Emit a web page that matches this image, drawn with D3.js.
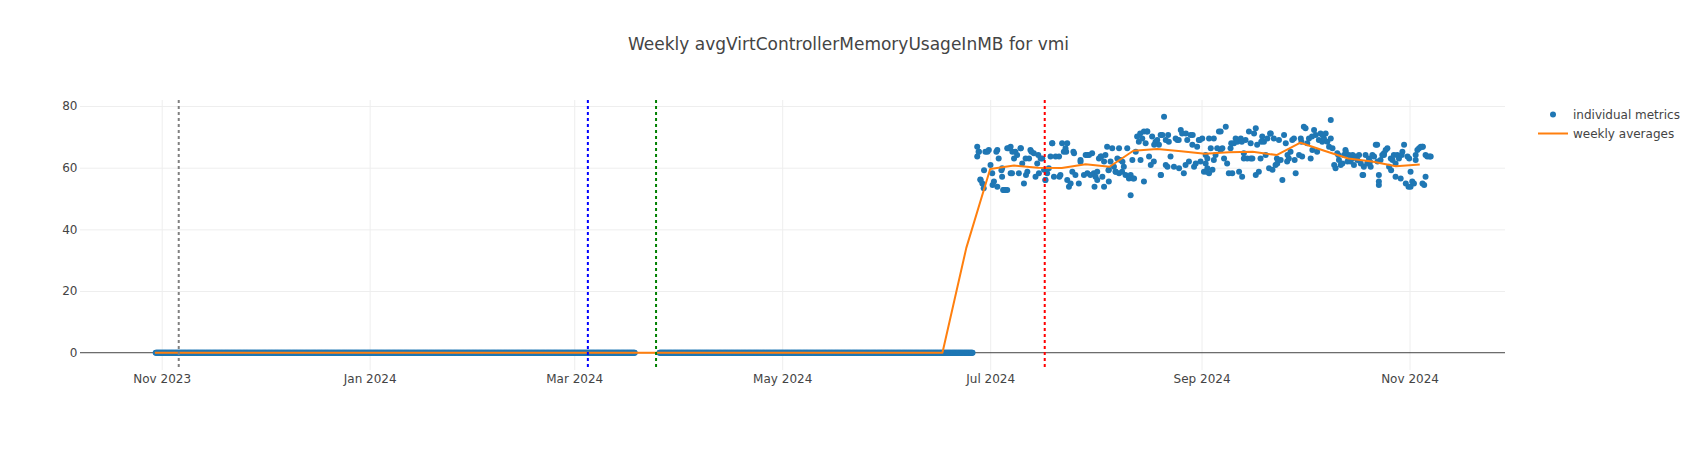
<!DOCTYPE html>
<html><head><meta charset="utf-8">
<script src="https://cdn.jsdelivr.net/npm/d3@7"></script>
<style>body{margin:0;background:#fff;} svg{display:block;font-family:"DejaVu Sans",verdana,arial,sans-serif;}</style>
</head><body><svg id="chart" width="1697" height="450"></svg>
<script>
const titleText = "Weekly avgVirtControllerMemoryUsageInMB for vmi";
const seriesNames = ["individual metrics", "weekly averages"];
const seriesColors = ["#1f77b4", "#ff7f0e"];
const yTicks = [0, 20, 40, 60, 80];
const xTickDates = ["2023-11-01", "2024-01-01", "2024-03-01", "2024-05-01", "2024-07-01", "2024-09-01", "2024-11-01"];
const xTickLabels = ["Nov 2023", "Jan 2024", "Mar 2024", "May 2024", "Jul 2024", "Sep 2024", "Nov 2024"];
const eventDates = ["2023-11-06", "2024-03-05", "2024-03-25", "2024-07-17"];
const eventColors = ["gray", "blue", "green", "red"];
// periods in which every individual metric reads 0
const zeroRanges = [["2023-10-30T06:00:00Z", "2024-03-18T18:00:00Z"], ["2024-03-26T00:00:00Z", "2024-06-25T22:00:00Z"]];
const zeroStepHours = 4;
// non-zero individual metrics: [days after metricBase, MB]
const metricBase = "2024-06-01T00:00:00Z";
const metricPoints = [
[26.2,66.8],[26.2,63.6],[26.7,65.2],[27.2,56.0],[27.7,54.9],[28.1,53.3],[28.6,65.2],[29.6,65.7],[30.1,60.9],[30.6,58.2],
[31.1,55.5],[32.1,65.7],[32.1,53.8],[32.5,63.0],[33.5,59.8],[33.5,57.1],[34.0,52.8],[34.5,52.8],[35.0,52.8],[35.0,66.3],
[36.0,66.8],[36.0,58.2],[36.5,65.2],[37.0,63.0],[37.9,64.1],[38.4,58.2],[38.9,66.3],[39.4,61.4],[39.9,54.9],[40.4,63.0],
[40.9,58.7],[41.4,63.0],[41.8,65.7],[42.8,64.7],[43.3,57.1],[43.8,61.4],[44.3,58.2],[44.8,63.0],[45.3,63.0],[45.8,59.3],
[46.2,56.0],[46.7,58.2],[47.2,59.8],[47.7,63.6],[48.2,67.9],[48.7,57.1],[49.2,63.6],[50.2,63.6],[50.6,57.6],[51.1,67.9],
[51.6,65.2],[52.1,66.3],[52.6,67.9],[52.6,56.0],[53.1,53.8],[53.6,54.9],[54.1,58.7],[54.6,64.7],[55.0,57.6],[56.0,54.9],
[56.5,62.5],[57.5,57.6],
[58.0,64.1],[58.5,58.2],[59.0,64.1],[59.4,57.6],[59.9,64.7],[60.4,58.2],[60.9,57.1],[61.4,58.7],[61.4,56.0],[61.9,63.0],
[62.4,63.6],[62.9,57.1],[63.4,62.0],[63.4,53.8],[63.8,64.1],[64.3,66.8],[64.8,59.3],[64.8,55.5],[65.3,62.0],[65.8,66.3],
[66.3,60.3],[66.8,58.7],[67.3,63.0],[67.8,66.3],[67.8,58.2],[68.2,62.5],[68.7,58.7],[69.2,60.3],[69.7,57.6],[70.2,66.3],
[70.7,56.5],[71.2,57.6],[71.2,51.1],[71.7,62.5],[72.2,56.5],[72.7,65.2],[73.1,70.1],[73.6,68.4],[74.1,62.5],[74.6,69.5],
[75.1,55.5],[75.1,71.7],[75.6,67.9],[76.1,71.7],[76.6,63.6],[77.1,60.9],[77.5,70.1],[78.0,62.0],[78.5,68.4],[79.0,69.0],
[79.5,67.4],[80.0,70.6],[80.0,57.6],[80.5,70.6],[81.0,76.5],[81.5,69.0],[81.5,60.9],[82.0,60.3],[82.4,68.4],[82.9,63.6],
[83.9,60.3],[84.4,69.5],[84.9,69.0],[85.4,59.8],[85.9,72.2],[86.3,71.1],[86.8,58.2],[87.3,60.9],[87.8,69.0],[88.3,62.0],
[88.8,70.6],[89.3,67.4],[89.8,60.3],[90.3,61.4],[90.7,66.8],[91.2,69.0],[91.7,62.0],[92.2,69.5],[92.7,58.7],[93.2,61.4],
[93.7,63.0],
[93.2,64.1],[93.7,59.8],[94.2,58.2],[94.2,69.5],[94.7,66.3],[95.2,59.3],[95.6,69.5],[96.1,64.1],[96.6,66.3],[97.1,71.7],
[97.6,65.7],[98.1,66.3],[98.6,63.0],[99.1,73.3],[99.5,61.4],[100.0,58.2],[100.5,66.3],[101.0,58.2],[101.5,67.9],[102.0,69.5],
[102.5,68.4],[103.0,58.7],[103.5,69.5],[103.9,57.1],[104.4,64.7],[104.4,63.0],[104.9,69.0],[105.4,63.0],[105.9,71.7],[106.4,67.9],
[106.9,63.0],[107.4,71.1],[107.9,72.8],[107.9,57.6],[108.3,67.4],[108.8,58.7],[109.3,63.0],[109.8,70.1],[110.3,68.4],[110.8,64.1],
[111.3,69.5],[111.8,59.8],[112.3,71.1],[112.8,59.3],[113.2,69.5],[113.7,60.9],[114.2,61.4],[114.7,69.0],[115.2,62.5],[115.7,56.0],
[116.2,70.6],[116.7,67.9],[117.1,62.0],[117.6,63.0],[118.1,65.2],[118.6,69.0],[119.1,69.5],[119.6,58.2],[120.6,64.1],[121.1,69.5],
[121.5,63.6],[122.0,73.3],[122.5,72.8],[123.0,67.9],[123.5,69.5],[124.0,63.0],[124.5,65.7],[125.0,72.2],[125.5,70.6],[125.9,65.2],
[126.4,69.0],[126.9,71.1],[127.4,68.4],[127.9,69.5],
[128.4,71.1],[128.9,68.4],[129.9,75.5],[129.4,66.8],[129.9,69.5],[130.4,66.3],[130.9,60.9],[131.3,59.8],[131.8,64.7],[132.3,62.5],
[132.8,60.9],[133.3,61.4],[133.8,64.1],[134.3,65.2],[134.8,62.0],[135.2,64.1],[135.7,62.0],[136.2,63.0],[136.7,60.9],[137.2,63.6],
[137.7,62.5],[138.2,64.1],[138.7,61.4],[139.2,57.6],[139.6,60.3],[140.1,64.1],[140.6,61.4],[141.1,63.0],[141.6,60.3],[142.1,64.1],
[142.6,63.6],[143.1,67.4],[143.6,62.0],[144.0,57.6],[144.0,55.5],[144.0,54.4],[144.5,62.5],[145.0,64.1],[145.5,64.7],[146.0,65.7],
[146.5,66.3],[147.0,60.3],[147.5,63.0],[148.0,62.5],[148.4,64.1],[148.9,61.4],[148.9,57.1],[149.4,64.1],[149.9,63.0],[150.4,56.5],
[150.9,65.2],[151.4,67.4],[151.9,54.9],[152.4,63.6],[152.9,63.0],[153.3,58.7],[153.3,53.8],[153.8,55.5],[154.3,54.9],[154.8,62.5],
[155.3,65.7],[155.8,66.3],[156.3,66.8],[156.8,66.8],[156.8,54.9],[157.3,54.4],[157.7,57.1],[157.7,64.1],[158.2,63.6],[159.2,63.6],
[26.6,65.2],[27.1,56.2],[28.2,59.2],[29.2,65.2],[30.7,54.4],[31.8,65.2],[33.3,59.2],[33.8,52.8],[35.4,66.3],[36.4,58.2],
[37.4,65.2],[39.0,66.3],[40.5,57.6],[42.1,65.2],[44.1,64.1],[46.2,56.0],[48.2,67.9],[50.3,57.1],[52.3,65.2],[54.4,65.2],
[56.5,61.9],[58.5,64.1],[60.6,53.8],[62.6,63.6],[64.7,59.2],[66.8,58.7],[68.8,61.9],[71.9,56.5],[74.0,71.1],[76.0,71.7],
[78.1,67.4],[80.1,57.6],[82.2,70.6],[85.3,69.0],[87.4,71.1],[89.4,70.6],[91.5,69.0],[93.5,58.7],[95.6,62.5],[97.6,71.7],
[100.7,67.9],[103.8,68.4],[106.4,63.0],[109.5,68.4],[112.1,71.1],[114.1,63.0],[117.2,64.1],[119.3,62.5],[121.3,68.4],[124.4,70.1],
[127.5,70.6],[132.1,64.1],[134.2,65.7],[136.3,64.1],[139.4,57.6],[141.4,61.9],[143.5,67.4],[145.5,64.1],[147.6,59.2],[150.7,64.1],
[152.7,53.8],[154.8,64.1],[156.9,66.8],[158.9,63.6]
];
// weekly averages, one per Monday starting at weeklyStart
const weeklyStart = "2023-10-30T00:00:00Z";
const weeklyValues = [
0,0,0,0,0,0,0,0,0,0, 0,0,0,0,0,0,0,0,0,0, 0,0,0,0,0,0,0,0,0,0, 0,0,0,0,
34.0,59.6,60.7,60.0,59.9,61.1,60.3,65.5,66.1,65.3,64.5,65.0,65.2,64.1,68.1,65.5,63.0,62.0,60.5,61.0
];

const DAY = 86400000;
const W = 1697, H = 450;
const FONT = '"DejaVu Sans",verdana,arial,sans-serif';
const plot = {left: 80, right: 1505, top: 100, bottom: 370};
const svg = d3.select("#chart");
svg.append("rect").attr("width", W).attr("height", H).attr("fill", "#fff");

const x = d3.scaleUtc()
  .domain([new Date("2023-10-08T01:00:00Z"), new Date("2024-11-29T00:00:00Z")])
  .range([plot.left, plot.right]);
const y = d3.scaleLinear().domain([-5.6, 81.95]).range([plot.bottom, plot.top]);

// data construction
const zeroPoints = [];
zeroRanges.forEach(([a, b]) => {
  const t0 = new Date(a).getTime(), t1 = new Date(b).getTime();
  for (let t = t0; t <= t1; t += zeroStepHours * 3600000) zeroPoints.push({t: new Date(t), v: 0});
});
const baseT = new Date(metricBase).getTime();
const metrics = zeroPoints.concat(metricPoints.map(([d, v]) => ({t: new Date(baseT + d * DAY), v})));
const weeklyT0 = new Date(weeklyStart).getTime();
const weekly = weeklyValues.map((v, i) => ({t: new Date(weeklyT0 + i * 7 * DAY), v}));

// grid
const xTicks = xTickDates.map(s => new Date(s + "T00:00:00Z"));
svg.append("g").attr("transform", `translate(0,${plot.bottom})`)
  .call(d3.axisBottom(x).tickValues(xTicks).tickSize(-(plot.bottom - plot.top)).tickFormat(""))
  .call(g => g.select(".domain").remove())
  .call(g => g.selectAll("line").attr("stroke", "#eee").attr("stroke-width", 1));
svg.append("g").attr("transform", `translate(${plot.left},0)`)
  .call(d3.axisLeft(y).tickValues(yTicks.filter(v => v !== 0)).tickSize(-(plot.right - plot.left)).tickFormat(""))
  .call(g => g.select(".domain").remove())
  .call(g => g.selectAll("line").attr("stroke", "#eee").attr("stroke-width", 1));
// zero line
svg.append("line").attr("x1", plot.left).attr("x2", plot.right)
  .attr("y1", y(0)).attr("y2", y(0)).attr("stroke", "#444").attr("stroke-width", 1);

// scatter
svg.append("g").selectAll("circle").data(metrics).join("circle")
  .attr("cx", d => x(d.t)).attr("cy", d => y(d.v)).attr("r", 3)
  .attr("fill", seriesColors[0]);

// weekly line
svg.append("path").datum(weekly)
  .attr("d", d3.line().x(d => x(d.t)).y(d => y(d.v)))
  .attr("fill", "none").attr("stroke", seriesColors[1]).attr("stroke-width", 2)
  .attr("stroke-linejoin", "round");

// event lines
svg.append("g").selectAll("line").data(eventDates).join("line")
  .attr("x1", d => x(new Date(d + "T00:00:00Z"))).attr("x2", d => x(new Date(d + "T00:00:00Z")))
  .attr("y1", plot.top).attr("y2", plot.bottom)
  .attr("stroke", (d, i) => eventColors[i]).attr("stroke-width", 2)
  .attr("stroke-dasharray", "3,3");

// axes labels
svg.append("g").attr("transform", `translate(0,${plot.bottom})`)
  .call(d3.axisBottom(x).tickValues(xTicks).tickSize(0).tickPadding(4.5).tickFormat((d, i) => xTickLabels[i]))
  .call(g => g.select(".domain").remove())
  .call(g => g.selectAll("text").attr("fill", "#444").style("font-size", "12px").style("font-family", FONT));
svg.append("g").attr("transform", `translate(${plot.left},0)`)
  .call(d3.axisLeft(y).tickValues(yTicks).tickSize(0).tickPadding(2.5))
  .call(g => g.select(".domain").remove())
  .call(g => g.selectAll("text").attr("fill", "#444").style("font-size", "12px").style("font-family", FONT));

// title
svg.append("text").attr("x", W / 2).attr("y", 49.5).attr("text-anchor", "middle")
  .attr("fill", "#444").style("font-size", "17px").text(titleText);

// legend
const lg = svg.append("g");
lg.append("circle").attr("cx", 1553).attr("cy", 114.5).attr("r", 3).attr("fill", seriesColors[0]);
lg.append("line").attr("x1", 1538).attr("x2", 1568).attr("y1", 133.5).attr("y2", 133.5)
  .attr("stroke", seriesColors[1]).attr("stroke-width", 2);
lg.selectAll("text").data(seriesNames).join("text")
  .attr("x", 1573).attr("y", (d, i) => 118.7 + i * 19)
  .attr("fill", "#444").style("font-size", "12px").text(d => d);
</script></body></html>
